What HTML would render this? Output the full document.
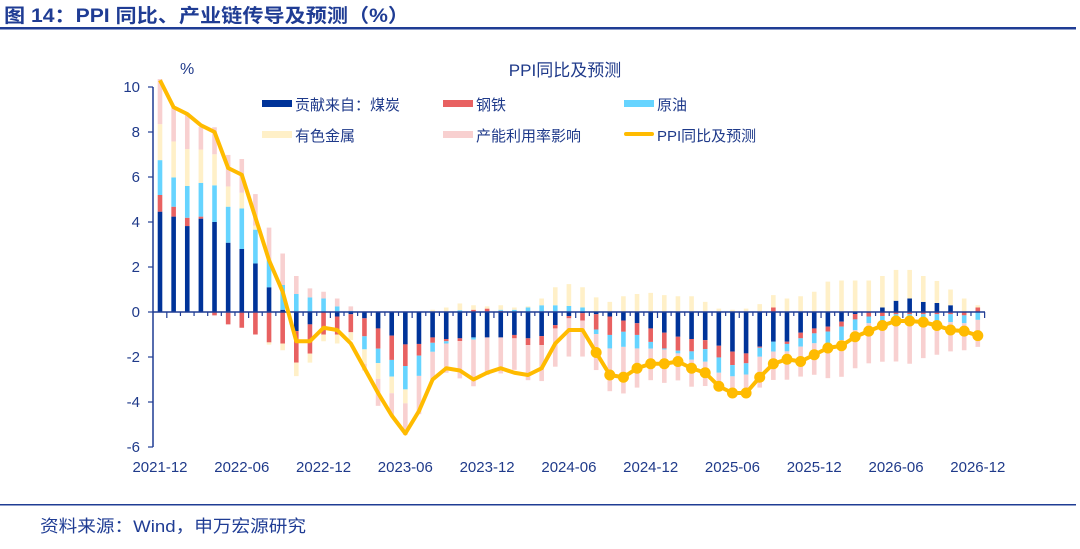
<!DOCTYPE html>
<html><head><meta charset="utf-8"><style>
body{margin:0;background:#fff;width:1080px;height:544px;overflow:hidden;font-family:"Liberation Sans","Noto Sans CJK SC",sans-serif;}
svg text{font-family:"Liberation Sans","Noto Sans CJK SC",sans-serif;}
</style></head><body>
<svg id="c" width="1080" height="544" xmlns="http://www.w3.org/2000/svg">
<text x="4" y="22" font-size="19" font-weight="bold" fill="#1f3c94" textLength="405" lengthAdjust="spacingAndGlyphs">图 14：PPI 同比、产业链传导及预测（%）</text>
<rect x="0" y="27" width="1076" height="2.5" fill="#1f3c94"/>
<rect x="0" y="504" width="1076" height="1.5" fill="#1f3c94"/>
<text x="40" y="532" font-size="17" fill="#1f3c94" textLength="266" lengthAdjust="spacingAndGlyphs">资料来源：Wind，申万宏源研究</text>
<text x="565" y="76" font-size="17" fill="#1f3a8a" text-anchor="middle">PPI同比及预测</text>
<text x="180" y="74" font-size="16" fill="#1f3a8a">%</text>
<g id="plot"></g>
<g id="legend" font-size="15" fill="#1f3a8a">
<rect x="262" y="100" width="30" height="7" fill="#003399"/><text x="295" y="110">贡献来自：煤炭</text>
<rect x="443" y="100" width="30" height="7" fill="#e86161"/><text x="476" y="110">钢铁</text>
<rect x="624" y="100" width="30" height="7" fill="#66d4ff"/><text x="657" y="110">原油</text>
<rect x="262" y="131" width="30" height="7" fill="#fff0c8"/><text x="295" y="141">有色金属</text>
<rect x="443" y="131" width="30" height="7" fill="#f8d0d0"/><text x="476" y="141">产能利用率影响</text>
<rect x="624" y="132" width="30" height="4" rx="2" fill="#ffbb00"/><text x="657" y="141">PPI同比及预测</text>
</g>
</svg>
<script>
const xTickLabels=["2021-12","2022-06","2022-12","2023-06","2023-12","2024-06","2024-12","2025-06","2025-12","2026-06","2026-12"];
const yTicks=[-6,-4,-2,0,2,4,6,8,10];
const coal=[4.46,4.24,3.82,4.15,4.0,3.08,2.8,2.16,1.1,0.1,-0.85,-0.55,0,-0.2,-0.1,-0.28,-0.73,-1.05,-1.44,-1.42,-1.13,-1.2,-1.17,-1.13,-1.13,-1.13,-1.02,-1.17,-1.07,-0.58,-0.18,-0.05,-0.1,-0.2,-0.38,-0.5,-0.73,-0.92,-1.1,-1.2,-1.25,-1.5,-1.76,-1.84,-1.54,-1.32,-1.32,-0.92,-0.73,-0.65,-0.43,-0.09,0,0.2,0.5,0.6,0.45,0.4,0.3,0,0];
const steel=[0.74,0.44,0.37,0.09,-0.15,-0.55,-0.7,-1.0,-1.35,-1.4,-1.4,-1.3,-1.0,-0.8,-0.8,-0.8,-0.9,-1.08,-0.96,-0.52,-0.24,-0.1,-0.12,0.1,0.15,0.05,-0.15,-0.3,-0.4,-0.15,-0.1,-0.33,-0.68,-0.82,-0.5,-0.52,-0.6,-0.7,-0.62,-0.55,-0.4,-0.52,-0.6,-0.44,-0.05,0.2,-0.1,-0.25,-0.22,-0.22,-0.22,-0.24,-0.2,-0.18,-0.1,-0.1,-0.1,-0.1,-0.1,-0.15,0.2];
const oil=[1.55,1.3,1.41,1.5,1.63,1.6,1.8,1.5,1.2,1.1,0.8,0.65,0.6,0.25,0.05,-0.58,-0.64,-0.74,-1.04,-0.9,-0.4,-0.1,0.08,-0.1,0,0.05,0.1,0.2,0.3,0.3,0.27,0.2,-0.2,-0.6,-0.67,-0.6,-0.3,-0.05,-0.12,-0.37,-0.56,-0.68,-0.5,-0.5,-0.4,-0.44,-0.33,-0.37,-0.44,-0.52,-0.6,-0.47,-0.3,-0.25,-0.5,-0.3,-0.35,-0.3,-0.35,-0.35,-0.35];
const nonferrous=[1.6,1.6,1.64,1.48,1.38,0.9,0.7,0.18,-0.1,-0.3,-0.6,-0.4,-0.3,-0.4,-0.35,-0.64,-0.7,-0.74,-0.62,0,0.1,0.2,0.3,0.2,0.1,0.2,0.1,0.05,0.3,0.8,0.97,0.9,0.65,0.45,0.7,0.8,0.85,0.75,0.7,0.7,0.45,0.15,0.1,0.15,0.35,0.55,0.6,0.7,0.9,1.35,1.4,1.4,1.4,1.4,1.37,1.27,1.15,0.98,0.7,0.6,0.1];
const capacity=[2.0,1.55,1.6,1.0,1.2,1.4,1.5,1.4,1.45,1.4,0.8,0.4,0.3,0.35,0.2,-0.3,-1.2,-0.96,-1.4,-1.7,-1.26,-1.3,-1.66,-2.07,-1.67,-1.6,-1.4,-1.56,-1.6,-1.7,-1.7,-1.6,-1.6,-1.9,-2.07,-1.74,-1.4,-1.48,-1.2,-1.2,-1.08,-0.62,-0.62,-0.62,-1.37,-1.26,-1.26,-1.33,-1.4,-1.55,-1.63,-1.7,-1.78,-1.78,-1.6,-1.9,-1.6,-1.5,-1.3,-1.2,-1.2];
const ppi=[10.3,9.1,8.8,8.3,8.0,6.4,6.1,4.2,2.3,0.9,-1.3,-1.3,-0.7,-0.8,-1.4,-2.5,-3.6,-4.6,-5.4,-4.4,-3.0,-2.5,-2.6,-3.0,-2.7,-2.5,-2.7,-2.8,-2.5,-1.4,-0.8,-0.8,-1.8,-2.8,-2.9,-2.5,-2.3,-2.3,-2.2,-2.5,-2.7,-3.3,-3.6,-3.6,-2.9,-2.3,-2.1,-2.2,-1.9,-1.6,-1.5,-1.1,-0.85,-0.6,-0.4,-0.4,-0.45,-0.6,-0.8,-0.85,-1.05];
const dotStart=32;

const NS="http://www.w3.org/2000/svg";
const g=document.getElementById('plot');
const x0=160,dx=13.63,yZero=312,unit=22.5;
const X=i=>x0+dx*i, Y=v=>yZero-v*unit;
function mk(t,a){const e=document.createElementNS(NS,t);for(const k in a)e.setAttribute(k,a[k]);g.appendChild(e);return e;}
const series=[[coal,'#003399','coal'],[steel,'#e86161','steel'],[oil,'#66d4ff','oil'],[nonferrous,'#fff0c8','nonferrous'],[capacity,'#f8d0d0','capacity']];
for(let i=0;i<coal.length;i++){
  let pos=0,neg=0;
  for(const [arr,col,nm] of series){
    const v=arr[i]; if(!v) continue;
    let y1,y2;
    if(v>0){y1=Y(pos+v);y2=Y(pos);pos+=v;}else{y1=Y(neg);y2=Y(neg+v);neg+=v;}
    const r=mk('rect',{x:X(i)-2.3,y:y1,width:4.6,height:Math.max(0,y2-y1),fill:col});
    
    
  }
}
const ax=mk('line',{x1:153,y1:Y(10),x2:153,y2:Y(-6),stroke:'#1f3c94','stroke-width':1.5});


yTicks.forEach(v=>{
  mk('line',{x1:148,y1:Y(v),x2:153,y2:Y(v),stroke:'#1f3c94','stroke-width':1.2});
  const t=mk('text',{x:140,y:Y(v)+5,'font-size':15,fill:'#1f3a8a','text-anchor':'end'});t.textContent=v;
  
  
});
const xa=mk('line',{x1:153,y1:yZero,x2:985,y2:yZero,stroke:'#1f3c94','stroke-width':1.5});


for(let i=0;i<=60;i++){
  const big=i%6===0;
  mk('line',{x1:X(i)+dx/2,y1:yZero,x2:X(i)+dx/2,y2:yZero+(big?6:4),stroke:'#1f3c94','stroke-width':1.2});
}
xTickLabels.forEach((s,k)=>{
  const t=mk('text',{x:X(k*6),y:472,'font-size':15,fill:'#1f3a8a','text-anchor':'middle'});t.textContent=s;
  
  
});
const pts=ppi.map((v,i)=>X(i)+','+Y(v)).join(' ');
const pl=mk('polyline',{points:pts,fill:'none',stroke:'#ffbb00','stroke-width':4,'stroke-linejoin':'round'});


for(let i=dotStart;i<ppi.length;i++){
  const c=mk('circle',{cx:X(i),cy:Y(ppi[i]),r:5.5,fill:'#ffbb00'});
  
  
}
</script>
</body></html>
